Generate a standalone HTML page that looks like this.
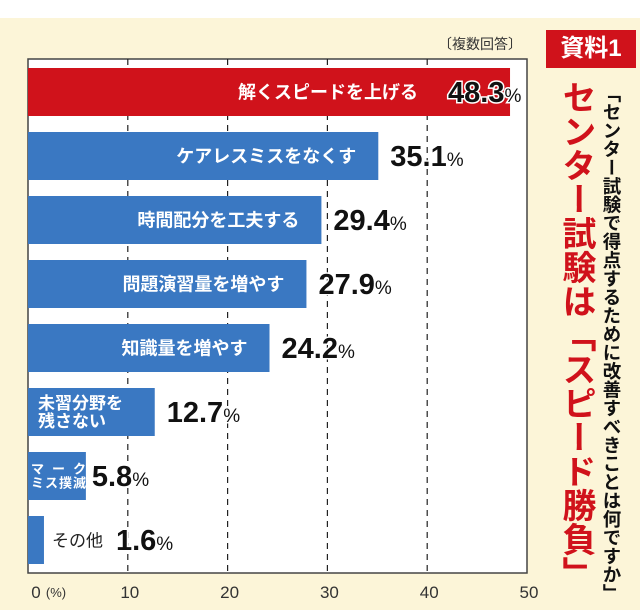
<!DOCTYPE html>
<html><head><meta charset="utf-8"><style>
html,body{margin:0;width:640px;height:610px;overflow:hidden;background:#fff;font-family:"Liberation Sans","Noto Sans CJK JP",sans-serif}
#bg{position:absolute;left:0;top:18px;width:640px;height:592px;background:#fcf5d8}
.vt{position:absolute;writing-mode:vertical-rl;font-weight:bold;white-space:nowrap}
</style></head><body>
<div id="bg"></div>
<div style="position:absolute;left:438px;top:34px;font-size:14px;color:#333">〔複数回答〕</div>
<div style="position:absolute;left:546px;top:30px;width:90px;height:38px;background:#d0121b;color:#fff;font-weight:bold;font-size:24px;line-height:38px;text-align:center">資料1</div>
<div class="vt" style="left:558px;top:80px;font-size:34px;line-height:36px;color:#d0121b">センター試験は「スピード勝負」</div>
<div class="vt" style="left:600px;top:84px;font-size:18.5px;line-height:22px;color:#111">「センター試験で得点するために改善すべきことは何ですか」</div>
<svg id="chart" width="640" height="610" style="position:absolute;left:0;top:0"></svg>
<script>
const categories=["解くスピードを上げる","ケアレスミスをなくす","時間配分を工夫する","問題演習量を増やす","知識量を増やす","未習分野を|残さない","マーク|ミス撲滅","その他"];
const values=[48.3,35.1,29.4,27.9,24.2,12.7,5.8,1.6];
const ticks=[0,10,20,30,40,50];
const tickLabels=["0","10","20","30","40","50"];
const NS="http://www.w3.org/2000/svg";
const svg=document.getElementById('chart');
const x0=28,pxPer=9.98,top0=59,bot=573,right=527;
const X=v=>x0+v*pxPer;
const Y=i=>68+i*64;
function mk(t,a){const e=document.createElementNS(NS,t);for(const k in a)e.setAttribute(k,a[k]);svg.appendChild(e);return e;}
const frame=mk('rect',{x:x0,y:top0,width:right-x0,height:bot-top0,fill:'#fff',stroke:'#444','stroke-width':1.5});


ticks.forEach((t,k)=>{
 if(t>0&&t<50){const g=mk('line',{x1:X(t),x2:X(t),y1:top0,y2:bot,stroke:'#222','stroke-width':1.2,'stroke-dasharray':'6,5'});
 
 }
 const tl=mk('text',{x:X(t)+(t==0?8:2),y:598,'font-size':17,'text-anchor':'middle',fill:'#333'});tl.textContent=tickLabels[k];
 
 
});
const u=mk('text',{x:56,y:597,'font-size':13,'text-anchor':'middle',fill:'#333'});u.textContent='(%)';


values.forEach((v,i)=>{
 const b=mk('rect',{x:x0,y:Y(i),width:X(v)-x0,height:48,fill:i==0?'#d0121b':'#3a78c2'});
 
 
 const lines=categories[i].split('|');
 const inside=(X(v)-x0)>40;
 const fs=lines.length>1?(i==6?13:17):18;
 lines.forEach((ln,j)=>{
  const ty=Y(i)+24+(lines.length>1?(j-0.5)*(fs+1):0)+fs*0.35;
  let tx=i==0?X(v)-92:X(v)-22;
  if(i==5)tx=38;
  if(i==6)tx=31;
  const t=inside?mk('text',{x:tx,y:ty,'font-size':fs,'font-weight':'bold',fill:'#fff','text-anchor':(i>=5?'start':'end')})
        :mk('text',{x:X(v)+8,y:ty,'font-size':17,fill:'#222'});
  if(i==6)t.setAttribute('textLength','55');
  t.textContent=ln;
  
  
 });
 let lx=X(v)+12;
 if(!inside)lx=X(v)+72;
 if(i==0)lx=X(v)-62;
 if(i==6)lx=X(v)+6;
 const vl=mk('text',{x:lx,y:Y(i)+34,'font-size':29,'font-weight':'bold',fill:'#111',stroke:'#fff','stroke-width':3,'paint-order':'stroke','font-family':'"Liberation Sans Narrow","Liberation Sans",sans-serif'});
 vl.textContent=v.toFixed(1);
 const ts=document.createElementNS(NS,'tspan');ts.setAttribute('font-size','19');ts.setAttribute('font-weight','normal');ts.textContent='%';vl.appendChild(ts);
 
 
});
</script>
</body></html>
